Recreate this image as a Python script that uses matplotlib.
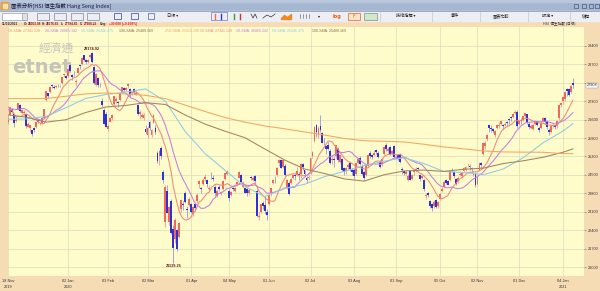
import numpy as np
import pandas as pd
import matplotlib
matplotlib.use("Agg")
import matplotlib.pyplot as plt
from matplotlib.patches import Rectangle

CJK = ["Noto Sans CJK TC", "DejaVu Sans"]
SMALL = ["Liberation Sans", "DejaVu Sans"]

# HSI daily bars, 18 Nov 2019 .. 11 Jan 2021 (HK trading days)
opens = [
    26500, 26790, 27000, 26800, 26560, 26970, 27160, 26870, 26860, 26810,  # Nov 19
    26330, 26300, 26200, 26290, 26310, 26580, 26420, 26480, 26680, 27350,
    27600, 27640, 27900, 27840, 27830, 27920, 27880, 27980, 28290, 28260,  # Dec 19
    28250, 28680, 28300, 28350, 28030, 28390, 28660, 28700, 29050, 28850,
    28780, 29000, 29150, 28620, 27930, 28200, 27970, 27300, 26980, 26800,  # Jan 20
    26250, 26520, 26680, 27180, 27300, 27250, 27330, 27650, 27820, 27740,
    27870, 27750, 27600, 27760, 27580, 27150, 26800, 26700, 26670, 26250,  # Feb
    26000, 26500, 26000, 26480, 26300, 25350, 25200, 25530, 24600, 22700,
    23900, 22700, 23500, 22450, 22050, 22400, 22150, 23200, 23400, 23800,
    23200, 23350,  # Mar
    23400, 23000, 23400, 23500, 24150, 24000, 24150, 24350, 24300, 23950,
    24400, 24400, 24050, 23700, 24050, 23800, 23950, 24350, 24550,  # Apr
    23900, 23750, 24000, 23900, 24150, 24400, 24500, 24050, 24000, 23950,
    23800, 24400, 24300, 24450, 23900, 22900, 23100, 23450, 23350, 23100,  # May
    23400, 23800, 24200, 24400, 24500, 24950, 25050, 24800, 24850, 24000,
    24200, 24200, 24400, 24500, 24500, 24550, 24550, 24900, 24700, 24400,
    24400,  # Jun
    24600, 25200, 25800, 26400, 26000, 26350, 26100, 25800, 25600, 25650,
    25400, 25050, 25100, 25200, 25500, 25000, 25100, 24750, 24650, 24800,
    24950, 24700,  # Jul
    24700, 24550, 24950, 25150, 24850, 24600, 24500, 24850, 25350, 25250,
    25250, 25450, 25350, 25000, 24900, 25300, 25650, 25400, 25550, 25300,
    25600,  # Aug
    25150, 25250, 25300, 24700, 24650, 24550, 24300, 24650, 24350, 24600,
    24650, 24750, 24500, 24400, 24300, 23700, 23800, 23500, 23400, 23300,
    23550, 23300,  # Sep
    23600, 23900, 24050, 24300, 24250, 24300, 24650, 24600, 24350, 24250,
    24500, 24450, 24650, 24700, 24900, 24850, 24750, 24500, 24550,  # Oct
    24150, 24700, 24950, 25300, 25600, 25850, 26400, 26300, 26250, 26000,
    26300, 26350, 26450, 26400, 26400, 26500, 26600, 26700, 26700, 26850,
    26900,  # Nov
    26450, 26600, 26600, 26750, 26800, 26450, 26300, 26250, 26450, 26500,
    26300, 26300, 26550, 26650, 26550, 26200, 26150, 26350, 26400, 26350,
    26650, 27150,  # Dec
    27300, 27400, 27750, 27750, 27650, 28003.98,  # Jan 21
]
highs = [
    26772, 27100, 27057, 26820, 26705, 27239, 27190, 27000, 26960, 26850,
    26530, 26400, 26210, 26320, 26520, 26620, 26520, 26690, 27010, 27720,
    27620, 27870, 27950, 27900, 27930, 27950, 27920, 28230, 28380, 28280,
    28560, 28700, 28330, 28450, 28140, 28590, 28680, 28970, 29060, 28900,
    28920, 29100, 29174.92, 28640, 28360, 28210, 28010, 27430, 27030, 26890,
    26450, 26720, 26800, 27500, 27450, 27300, 27630, 27840, 27860, 27850,
    28000, 27800, 27700, 27800, 27690, 27170, 26950, 26850, 26870, 26400,
    26350, 26550, 26250, 26800, 26380, 25400, 25430, 25600, 24700, 24100,
    24100, 23300, 23600, 22600, 22880, 22450, 22700, 23550, 23500, 23900,
    23300, 23650,
    23450, 23300, 23450, 23800, 24300, 24050, 24380, 24550, 24350, 24100,
    24600, 24500, 24100, 23950, 24100, 23900, 24300, 24600, 24700,
    23950, 23900, 24050, 24050, 24250, 24650, 24520, 24250, 24050, 24000,
    24000, 24450, 24450, 24500, 23950, 23100, 23400, 23500, 23700, 23200,
    23750, 24000, 24350, 24450, 24800, 25100, 25100, 25100, 24900, 24350,
    24250, 24400, 24550, 24550, 24800, 24600, 24950, 24950, 24700, 24450,
    24500,
    25150, 25400, 26350, 26450, 26350, 26782, 26150, 25900, 25650, 25750,
    25500, 25250, 25200, 25650, 25550, 25300, 25150, 24800, 24800, 24950,
    25000, 24750,
    24750, 24950, 25150, 25200, 24900, 24650, 24900, 25300, 25400, 25300,
    25450, 25500, 25400, 25050, 25150, 25600, 25700, 25550, 25600, 25450,
    25650,
    25250, 25300, 25350, 24800, 24700, 24700, 24550, 24700, 24550, 24700,
    24800, 24800, 24550, 24500, 24350, 23800, 23850, 23550, 23450, 23550,
    23600, 23500,
    23800, 24050, 24300, 24350, 24300, 24700, 24750, 24650, 24400, 24450,
    24650, 24600, 24800, 24850, 24950, 24900, 24800, 24650, 24600,
    24500, 24950, 25000, 25750, 25800, 26050, 26450, 26400, 26300, 26200,
    26400, 26500, 26600, 26450, 26500, 26550, 26650, 26750, 26850, 26950,
    26950,
    26600, 26650, 26750, 26850, 26800, 26500, 26450, 26450, 26600, 26550,
    26350, 26500, 26700, 26700, 26600, 26300, 26400, 26450, 26450, 26600,
    27200, 27250,
    27500, 27700, 27800, 27800, 27900, 28176.65,
]
lows = [
    26446, 26780, 26850, 26323, 26500, 26950, 26880, 26820, 26740, 26300,
    26320, 26120, 25970, 26150, 26290, 26470, 26380, 26460, 26650, 27300,
    27430, 27630, 27820, 27760, 27810, 27850, 27830, 27970, 28230, 28140,
    28230, 28420, 28120, 28250, 27880, 28380, 28530, 28690, 28820, 28700,
    28750, 28950, 28760, 27960, 27880, 27850, 27830, 27100, 26420, 26310,
    26180, 26500, 26600, 27150, 27250, 27100, 27300, 27620, 27660, 27700,
    27820, 27460, 27550, 27560, 27520, 26780, 26620, 26650, 26600, 26060,
    25900, 26200, 25950, 26460, 26070, 24950, 24870, 25120, 24200, 22520,
    23050, 22600, 22250, 21139.26, 21900, 21600, 22100, 23100, 23170, 23440,
    22880, 23300,
    23050, 22950, 23150, 23450, 24000, 23800, 24100, 24250, 24050, 23850,
    24350, 24250, 23700, 23650, 23900, 23720, 23930, 24300, 24500,
    23500, 23700, 23900, 23850, 24100, 24380, 24200, 24000, 23800, 23700,
    23750, 24300, 24280, 24200, 22900, 22800, 23050, 23200, 23000, 22800,
    23350, 23700, 24150, 24200, 24450, 24850, 24750, 24750, 24450, 23950,
    23750, 24150, 24350, 24300, 24450, 24300, 24400, 24700, 24450, 24200,
    24300,
    24550, 25150, 25750, 25950, 25900, 26150, 25700, 25650, 25300, 25450,
    24900, 24900, 24800, 25150, 25000, 24950, 24650, 24500, 24550, 24700,
    24650, 24500,
    24350, 24500, 24900, 24880, 24500, 24300, 24450, 24800, 25150, 25100,
    25200, 25300, 25150, 24750, 24850, 25250, 25400, 25350, 25250, 25250,
    25150,
    25050, 25050, 24950, 24550, 24500, 24500, 24250, 24300, 24300, 24500,
    24600, 24650, 24250, 24350, 23900, 23600, 23650, 23250, 23124, 23250,
    23250, 23250,
    23550, 23850, 24000, 24150, 24100, 24250, 24600, 24400, 24100, 24200,
    24450, 24400, 24600, 24650, 24800, 24700, 24600, 24450, 24050,
    24100, 24650, 24750, 25250, 25500, 25800, 26150, 26150, 26100, 25950,
    26250, 26300, 26400, 26250, 26350, 26350, 26450, 26550, 26650, 26800,
    26300,
    26400, 26450, 26550, 26700, 26450, 26250, 26250, 26200, 26400, 26350,
    26150, 26250, 26500, 26450, 26250, 26000, 26100, 26300, 26250, 26300,
    26600, 27100,
    27200, 27300, 27500, 27500, 27600, 27794.81,
]
closes = [
    26681, 27094, 26889, 26467, 26596, 27228, 26914, 26954, 26894, 26346,
    26445, 26391, 26062, 26218, 26498, 26495, 26437, 26646, 26995, 27688,
    27509, 27844, 27884, 27801, 27871, 27907, 27864, 28225, 28319, 28190,
    28544, 28452, 28226, 28322, 28088, 28562, 28638, 28955, 28885, 28774,
    28883, 29056, 28795, 27985, 28341, 27910, 27950, 27160, 26449, 26313,
    26356, 26675, 26786, 27493, 27404, 27241, 27584, 27823, 27730, 27816,
    27960, 27530, 27656, 27655, 27609, 26821, 26894, 26779, 26778, 26130,
    26292, 26284, 26223, 26768, 26147, 25040, 25392, 25232, 24310, 24033,
    23064, 23264, 22291, 21709, 22805, 21697, 22663, 23528, 23352, 23484,
    23175, 23603,
    23085, 23280, 23237, 23750, 24254, 23971, 24300, 24436, 24146, 24007,
    24381, 24330, 23794, 23894, 23977, 23832, 24281, 24576, 24644,
    23614, 23869, 23980, 23997, 24231, 24603, 24246, 24180, 23830, 23797,
    23934, 24388, 24400, 24281, 22930, 22953, 23385, 23301, 23132, 22961,
    23732, 23995, 24325, 24366, 24770, 25057, 24776, 25049, 24480, 24301,
    23777, 24344, 24481, 24464, 24644, 24511, 24907, 24782, 24550, 24301,
    24427,
    25124, 25373, 26339, 26130, 26296, 26211, 25727, 25773, 25477, 25482,
    24971, 25090, 25058, 25636, 25058, 25263, 24705, 24603, 24772, 24884,
    24710, 24595,
    24458, 24947, 25102, 24930, 24532, 24377, 24890, 25244, 25230, 25183,
    25347, 25368, 25178, 24791, 25113, 25552, 25486, 25491, 25282, 25422,
    25177,
    25184, 25120, 25007, 24695, 24589, 24624, 24468, 24313, 24503, 24640,
    24732, 24725, 24341, 24455, 23950, 23717, 23742, 23311, 23235, 23476,
    23275, 23459,
    23767, 23980, 24242, 24193, 24120, 24650, 24649, 24441, 24158, 24387,
    24542, 24570, 24755, 24787, 24919, 24788, 24709, 24587, 24107,
    24460, 24940, 24886, 25696, 25713, 26016, 26302, 26227, 26170, 26157,
    26382, 26416, 26544, 26357, 26452, 26486, 26588, 26669, 26819, 26895,
    26341,
    26568, 26533, 26729, 26836, 26507, 26305, 26356, 26410, 26506, 26390,
    26207, 26460, 26679, 26498, 26307, 26120, 26343, 26387, 26315, 26568,
    27147, 27231,
    27473, 27649, 27693, 27548, 27878, 27908.22,
]
# closes before the window, used to warm up the short averages
pre_closes = [26725, 26786, 26566, 26797, 26667, 26891, 26786, 26667, 26906, 27101,
              27548, 27683, 27688, 27847, 27651, 26926, 27065, 26571, 26323, 26327]

# longer averages at these bar positions
ma_idx = [0, 9, 19, 29, 39, 49, 59, 69, 79, 89, 99, 109, 119, 129, 139, 149, 159,
          169, 179, 189, 199, 209, 219, 229, 239, 249, 259, 269, 279, 284]
ma50 = [26610, 26632, 26723, 27057, 27409, 27553, 27650, 27768, 27295, 26143, 25308,
        24674, 24062, 23677, 23990, 24144, 24433, 24636, 24852, 25020, 25154, 24935,
        24632, 24589, 24509, 24726, 25152, 25721, 26166, 26446]
ma100 = [26780, 26696, 26505, 26599, 26873, 27082, 27141, 27246, 27176, 26776, 26430,
         26162, 25915, 25486, 25067, 24726, 24554, 24349, 24265, 24505, 24649, 24684,
         24634, 24714, 24758, 24933, 25037, 25170, 25361, 25489]
ma250 = [27400, 27396, 27404, 27490, 27583, 27611, 27582, 27526, 27400, 27152, 26908,
         26681, 26506, 26360, 26254, 26133, 26016, 25883, 25800, 25780, 25754, 25665,
         25564, 25491, 25411, 25374, 25366, 25361, 25309, 25310]

tick_idx = [0, 30, 50, 70, 92, 111, 131, 152, 174, 195, 217, 236, 257, 279]
tick_labels = ["18 Nov\n2019", "02 Jan\n2020", "03 Feb", "02 Mar", "01 Apr", "04 May",
               "01 Jun", "02 Jul", "03 Aug", "01 Sep", "05 Oct", "02 Nov", "01 Dec",
               "04 Jan\n2021"]
y_ticks = list(range(21000, 29401, 700))

ma_texts = ["10-SMA: 27341.128", "20-SMA: 26865.342", "50-SMA: 26446.375",
            "100-SMA: 25489.169", "250-SMA: 25310.108", "10-SMA: 27341.128",
            "20-SMA: 26865.342", "50-SMA: 26446.375", "100-SMA: 25489.169"]

BEIGE = "#f6dcb5"
PLOT_BG = "#fefccb"
GRID = "#d9dcbd"
UP, DOWN = "#f0685c", "#3030d8"
UP_WICK, DOWN_WICK = "#f39a90", "#9696d6"
C10, C20, C50, C100, C250 = "#f0877a", "#c27ee0", "#8ccbe6", "#a58260", "#f2a65e"
ma_colors = [C10, C20, C50, "#8a6a4a", C250, C10, C20, C50, "#8a6a4a"]

W, H = 600, 291
fig = plt.figure(figsize=(W / 100, H / 100), dpi=100, facecolor=BEIGE)

# ---- window chrome (pixel coordinates) ----
bg = fig.add_axes([0, 0, 1, 1], zorder=0)
bg.set_xlim(0, W)
bg.set_ylim(H, 0)
bg.axis("off")
bg.add_patch(Rectangle((0, 0), W, 11, color="#a5b6d0"))
bg.add_patch(Rectangle((0, 0), W, 2, color="#b9c7dc"))
bg.add_patch(Rectangle((1, 2), 7, 7, color="#e8a23a"))
bg.add_patch(Rectangle((2.5, 3.5), 4, 4, color="#f7e3b0"))
bg.text(11, 5.8, "圖表分析[HSI 恒生指數 Hang Seng Index]", fontsize=3.9, family=CJK,
        color="#1c1c3c", va="center")
for wx in [574, 582, 589, 595]:
    bg.add_patch(Rectangle((wx, 4), 4, 4, fill=False, ec="#34446a", lw=0.4))

bg.add_patch(Rectangle((0, 11), W, 10, color="#eceef3"))
bg.plot([0, W], [11, 11], color="#7f8fae", lw=0.5)
bg.add_patch(Rectangle((2, 12.5), 22, 7, color="white", ec="#8a8a9a", lw=0.4))
bg.add_patch(Rectangle((22, 12.5), 5, 7, color="#e0e0e8", ec="#8a8a9a", lw=0.4))
for bx in [37, 54, 71, 87]:
    bg.add_patch(Rectangle((bx, 12.5), 12, 7, fill=False, ec="#6c6c80", lw=0.4))
for bx in [114, 131]:
    bg.add_patch(Rectangle((bx, 13), 7, 6, fill=False, ec="#5060a0", lw=0.6))
bg.add_patch(Rectangle((148, 13), 6, 6, fill=False, ec="#5060a0", lw=0.5))
bg.text(167, 16.3, "日線 ▾", fontsize=3.0, family=CJK, color="#222", va="center")
bg.add_patch(Rectangle((211, 12.3), 16, 7.5, fill=False, ec="#7080b0", lw=0.5))
bg.plot([215, 215], [13.5, 19], color=UP, lw=1.0)
bg.plot([221, 221], [13.5, 19], color=DOWN, lw=1.0)
bg.plot([234, 234], [13.5, 19], color="#30a030", lw=1.0)
bg.plot([240, 240], [13.5, 19], color="#d03030", lw=1.0)
bg.plot([251, 253, 255, 257], [14, 18, 14, 18], color="#303030", lw=0.5)
bg.plot([263, 267, 271, 275], [18, 15, 17, 14], color="#303030", lw=0.5)
bg.fill_between([281, 284, 287, 291], [18, 15, 17, 14], 19, color="#f08a20")
for bx in [300, 303, 306, 309]:
    bg.plot([bx, bx], [14, 18], color="#555", lw=0.4)
bg.text(318, 16.3, "▾", fontsize=3.0, color="#222", va="center")
bg.text(333, 16.3, "log", fontsize=3.6, color="#e8601c", weight="bold", va="center")
bg.add_patch(Rectangle((348, 12.5), 12, 7, color="#fde7c8", ec="#e8601c", lw=0.5))
bg.text(354, 16.3, "F", fontsize=3.4, color="#e8601c", ha="center", va="center")
bg.add_patch(Rectangle((364, 12.5), 13, 7, color="#cfe8c8", ec="#6c7c6c", lw=0.4))
for label, lx in [("技術指標 ▾", 396), ("事件", 451), ("圖表比較", 493),
                  ("設定 ▾", 542), ("儲存", 582)]:
    bg.text(lx, 16.3, label, fontsize=3.0, family=CJK, color="#222", va="center")
for sx in [380, 432, 480, 528, 570]:
    bg.plot([sx, sx], [12, 20.5], color="#c4c6d0", lw=0.5)

info = [("11/01/2021", 2, "#3a2a2a"), ("O:", 24, "#3a2a2a"), ("28003.98", 28, "#8b1a1a"),
        ("H:", 42, "#3a2a2a"), ("28176.65", 46, "#8b1a1a"), ("L:", 61, "#3a2a2a"),
        ("27794.81", 64.5, "#8b1a1a"), ("C:", 80, "#3a2a2a"), ("27908.22", 84, "#8b1a1a"),
        ("Chg:", 100, "#3a2a2a"), ("+30.000 (+0.108%)", 109, "#e02020")]
for t, tx, col in info:
    bg.text(tx, 24.4, t, fontsize=2.3, family=SMALL, color=col, va="center", weight="bold")
bg.text(543, 24.4, "HSI  恒生指數 (日線)", fontsize=2.6, family=CJK, color="#333", va="center")

# ---- price chart ----
ax = fig.add_axes([8 / W, (H - 276) / H, 576 / W, 249 / H], zorder=1)
ax.set_facecolor(PLOT_BG)
for s in ax.spines.values():
    s.set_visible(False)

o = np.array(opens, dtype=float)
hi = np.array(highs, dtype=float)
lo = np.array(lows, dtype=float)
c = np.array(closes, dtype=float)
x = np.arange(len(c))
assert len(o) == len(hi) == len(lo) == len(c) == 285

up = c >= o
ax.vlines(x, lo, hi, colors=np.where(up, UP_WICK, DOWN_WICK), lw=0.6, zorder=2)
body = np.maximum(np.abs(c - o), 20)
ax.bar(x, body, bottom=np.minimum(o, c), width=0.95,
       color=np.where(up, UP, DOWN), lw=0, zorder=2.5)

full = pd.Series(pre_closes + closes, dtype=float)
sma10 = full.rolling(10).mean().to_numpy()[len(pre_closes):]
sma20 = full.rolling(20).mean().to_numpy()[len(pre_closes):]
ax.plot(x, sma10, color=C10, lw=0.75, zorder=3)
ax.plot(x, sma20, color=C20, lw=0.75, zorder=3)
ax.plot(ma_idx, ma50, color=C50, lw=0.75, zorder=3)
ax.plot(ma_idx, ma100, color=C100, lw=0.75, zorder=3)
ax.plot(ma_idx, ma250, color=C250, lw=0.75, zorder=3)

ax.set_xlim(-0.2, 289.6)
ax.set_ylim(20658, 30122)
ax.set_xticks(tick_idx)
ax.set_xticklabels(tick_labels, fontsize=2.8, family=SMALL, color="#333",
                   linespacing=1.5, va="top")
ax.set_yticks(y_ticks)
# the 28000 label sits under the last-price tag
ax.set_yticklabels(["" if v == 28000 else str(v) for v in y_ticks], fontsize=2.8,
                   family=SMALL, color="#333")
ax.yaxis.tick_right()
ax.tick_params(axis="y", length=1.5, width=0.4, pad=1.2, color="#666")
ax.tick_params(axis="x", length=0, pad=2.5)
ax.grid(True, color=GRID, lw=0.5, zorder=0)
ax.set_axisbelow(True)

# watermark
ax.text(0.083, 0.915, "經濟通", transform=ax.transAxes, fontsize=8.5, family=CJK,
        color="#c6c6bb", ha="center", va="center", zorder=1)
ax.text(0.059, 0.838, "etnet", transform=ax.transAxes, fontsize=14, weight="bold",
        color="#c4c4b8", ha="center", va="center", zorder=1)

# extreme labels
i_hi = int(np.argmax(hi))
i_lo = int(np.argmin(lo))
ax.text(i_hi, hi[i_hi] + 40, f"{hi[i_hi]:.2f}", fontsize=2.8, family=SMALL, weight="bold",
        color="#6a1a1a", ha="center", va="bottom", zorder=4)
ax.text(i_lo, lo[i_lo] - 40, f"{lo[i_lo]:.2f}", fontsize=2.8, family=SMALL, weight="bold",
        color="#6a1a1a", ha="center", va="top", zorder=4)

# last price tag on the scale
ax.text(1.004, c[-1], f"{c[-1]:.0f}", transform=ax.get_yaxis_transform(), fontsize=2.8,
        family=SMALL, color="#222", va="center", ha="left", clip_on=False, zorder=5,
        bbox=dict(fc="white", ec="#888", lw=0.3, pad=0.5))

# MA legend row along the top of the chart
ma_x = [8, 45, 81, 119, 165, 200, 236, 272, 312]
for t, tx, col in zip(ma_texts, ma_x, ma_colors):
    ax.text((tx - 8) / 576, (276 - 30.5) / 249, t, transform=ax.transAxes, fontsize=2.6,
            family=SMALL, color=col, va="center", ha="left", zorder=5)

fig.savefig("out.png", dpi=100, facecolor=BEIGE)
